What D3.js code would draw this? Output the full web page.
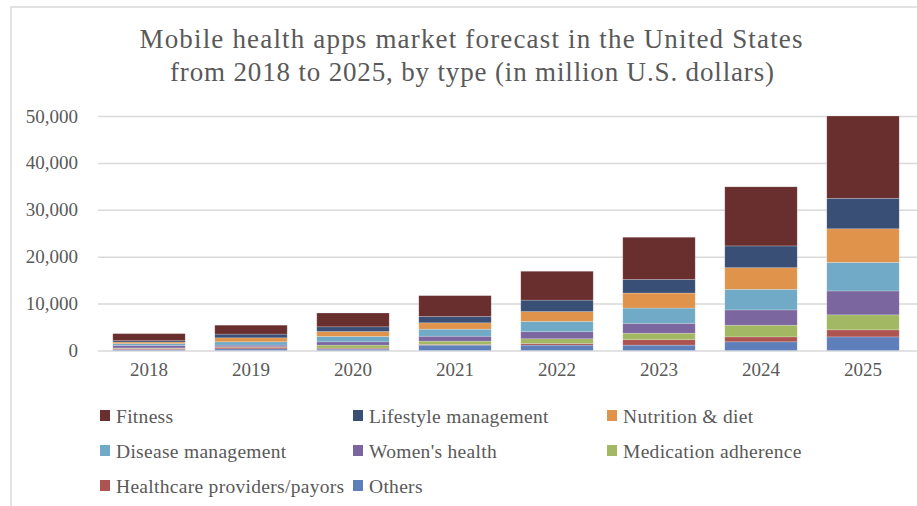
<!DOCTYPE html>
<html>
<head>
<meta charset="utf-8">
<script src="https://cdn.jsdelivr.net/npm/d3@7"></script>
<style>
  body { margin: 0; background: #fff; }
  svg text { font-family: "Liberation Serif", "DejaVu Serif", serif; fill: #595959; }
</style>
</head>
<body>
<script>
const years = ["2018", "2019", "2020", "2021", "2022", "2023", "2024", "2025"];
const seriesNames = ["Others", "Healthcare providers/payors", "Medication adherence", "Women's health",
  "Disease management", "Nutrition & diet", "Lifestyle management", "Fitness"];
const seriesColors = ["#5f7fbb", "#ad5450", "#a3b862", "#7b66a0", "#71aac6", "#e0944b", "#3a4f75", "#692f2f"];

const others     = [200, 350, 300, 1150, 1150, 1150, 1850, 2900];
const healthcare = [250, 350, 200, 150, 350, 1150, 1050, 1500];
const medication = [100, 100, 650, 700, 1000, 1400, 2500, 3200];
const women      = [550, 350, 700, 1050, 1500, 2100, 3250, 5100];
const disease    = [350, 700, 1150, 1500, 2200, 3250, 4400, 6100];
const nutrition  = [350, 850, 1050, 1350, 2100, 3200, 4600, 7150];
const lifestyle  = [300, 800, 1000, 1350, 2450, 2900, 4650, 6500];
const fitness    = [1500, 1900, 2950, 4450, 6150, 9000, 12600, 17550];

const yTicks = [0, 10000, 20000, 30000, 40000, 50000];
const legendOrder = ["Fitness", "Lifestyle management", "Nutrition & diet", "Disease management",
  "Women's health", "Medication adherence", "Healthcare providers/payors", "Others"];

const allSeries = [others, healthcare, medication, women, disease, nutrition, lifestyle, fitness];
const table = years.map((yr, i) => {
  const row = { year: yr };
  seriesNames.forEach((s, k) => row[s] = allSeries[k][i]);
  return row;
});

const W = 917, H = 506;
const svg = d3.select("body").append("svg").attr("width", W).attr("height", H);

// outer frame
svg.append("rect")
  .attr("x", 11).attr("y", 7)
  .attr("width", W + 20).attr("height", H + 20)
  .attr("fill", "none").attr("stroke", "#d9d9d9").attr("stroke-width", 1.5);

const x = d3.scaleBand().domain(years).range([98, 914]).paddingInner(0.29).paddingOuter(0.145);
const y = d3.scaleLinear().domain([0, 50000]).range([350.5, 116]);
const color = d3.scaleOrdinal().domain(seriesNames).range(seriesColors);

// title
const title = svg.append("text")
  .attr("text-anchor", "middle")
  .style("font-size", "27px");
title.append("tspan").attr("x", 471).attr("y", 48)
  .attr("textLength", 663).attr("lengthAdjust", "spacing")
  .text("Mobile health apps market forecast in the United States");
title.append("tspan").attr("x", 472).attr("y", 81)
  .attr("textLength", 604).attr("lengthAdjust", "spacing")
  .text("from 2018 to 2025, by type (in million U.S. dollars)");

// gridlines
svg.append("g")
  .attr("transform", "translate(98,0)")
  .call(d3.axisLeft(y).tickValues(yTicks).tickSize(-(917 - 98)).tickFormat(""))
  .call(g => g.select(".domain").remove())
  .call(g => g.selectAll("line").attr("stroke", "#d9d9d9").attr("stroke-width", 1.5));

// y labels
svg.append("g")
  .attr("transform", "translate(78,0)")
  .call(d3.axisLeft(y).tickValues(yTicks).tickSize(0).tickPadding(0).tickFormat(d3.format(",")))
  .call(g => g.select(".domain").remove())
  .call(g => g.selectAll("text").style("font-size", "19px").attr("fill", "#595959"));

// stacked bars
const stack = d3.stack().keys(seriesNames)(table);
svg.append("g").selectAll("g")
  .data(stack)
  .join("g")
  .attr("fill", d => color(d.key))
  .selectAll("rect")
  .data(d => d)
  .join("rect")
  .attr("x", d => x(d.data.year))
  .attr("width", x.bandwidth())
  .attr("y", d => y(d[1]))
  .attr("height", d => y(d[0]) - y(d[1]))
  .attr("stroke", "#ffffff").attr("stroke-opacity", 0.35).attr("stroke-width", 0.6);

// x labels
svg.append("g")
  .attr("transform", "translate(0,362)")
  .call(d3.axisBottom(x).tickSize(0).tickPadding(0))
  .call(g => g.select(".domain").remove())
  .call(g => g.selectAll("text").style("font-size", "19px").attr("fill", "#595959").attr("dy", "0.71em"));

// legend
const legCols = [100, 353, 607];
const legRows = [416, 451, 486];
const legend = svg.append("g").selectAll("g")
  .data(legendOrder)
  .join("g")
  .attr("transform", (d, i) => `translate(${legCols[i % 3]},${legRows[Math.floor(i / 3)]})`);
legend.append("rect")
  .attr("x", 0).attr("y", -6).attr("width", 10).attr("height", 11)
  .attr("fill", d => color(d));
legend.append("text")
  .attr("x", 16).attr("dy", "0.35em")
  .style("font-size", "19.5px")
  .style("letter-spacing", "0.3px")
  .text(d => d);
</script>
</body>
</html>
